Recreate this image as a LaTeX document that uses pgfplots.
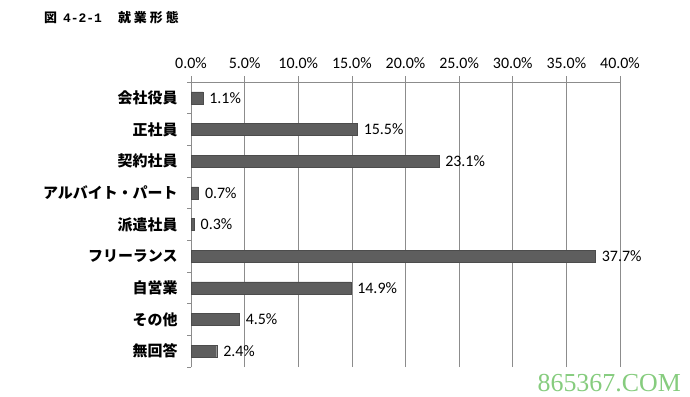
\documentclass[border=0pt]{standalone}
\usepackage{fontspec}
\setmainfont{Carlito}
\newfontfamily\jp{Noto Sans CJK JP}
\newfontfamily\wm{Liberation Serif}
\newfontfamily\mono{Liberation Mono}
\usepackage{pgfplots}
\pgfplotsset{compat=1.18}
\definecolor{barc}{HTML}{5E5E5E}
\definecolor{gridc}{HTML}{8C8C8C}
\definecolor{wmc}{HTML}{86CC7E}
\begin{document}
\begin{tikzpicture}[x=1bp,y=1bp]
\path[use as bounding box] (0,0) rectangle (690,396);
\node[anchor=west,inner sep=0] at (44,378) {\jp\bfseries\fontsize{13}{15}\selectfont 図\hspace{6bp}{\mono\bfseries\fontsize{13}{15}\selectfont 4-2-1}\hspace{16bp}就\hspace{3bp}業\hspace{3bp}形\hspace{3bp}態};
\begin{axis}[
 at={(191bp,29bp)}, anchor=south west,
 scale only axis, width=429bp, height=285bp,
 xbar, bar width=12bp,
 xmin=0, xmax=40, ymin=0.5, ymax=9.5,
 axis x line*=top, axis y line*=left,
 xtick={0,5,...,40},
 /pgf/number format/assume math mode=true,
 xticklabel={\pgfmathprintnumber[fixed,fixed zerofill,precision=1]{\tick}\%},
 xmajorgrids, major grid style={gridc, line width=0.6bp},
 axis line style={gridc, line width=0.6bp},
 tick style={gridc, line width=0.6bp},
 tick align=outside, major tick length=6bp, minor tick length=4bp,
 ytick={1,...,9},
 yticklabels={無回答,その他,自営業,フリーランス,派遣社員,アルバイト・パート,契約社員,正社員,会社役員},
 every major y tick/.append style={draw=none},
 minor ytick={0.5,1.5,...,9.5},
 yticklabel style={font=\jp\bfseries\fontsize{15}{17}\selectfont, xshift=-4bp},
 xticklabel style={font=\fontsize{16}{18}\selectfont, yshift=4bp},
 nodes near coords={\pgfmathprintnumber[fixed,fixed zerofill,precision=1]{\pgfplotspointmeta}\%},
 nodes near coords style={font=\fontsize{16}{18}\selectfont, black, xshift=3bp},
]
\addplot[fill=barc, draw=black!70] coordinates {
 (2.4,1) (4.5,2) (14.9,3) (37.7,4) (0.3,5) (0.7,6) (23.1,7) (15.5,8) (1.1,9)};
\end{axis}
\node[anchor=base east,font=\wm\fontsize{26}{28}\selectfont,text=wmc,inner sep=0] at (681,5) {865367.COM};
\end{tikzpicture}
\end{document}
